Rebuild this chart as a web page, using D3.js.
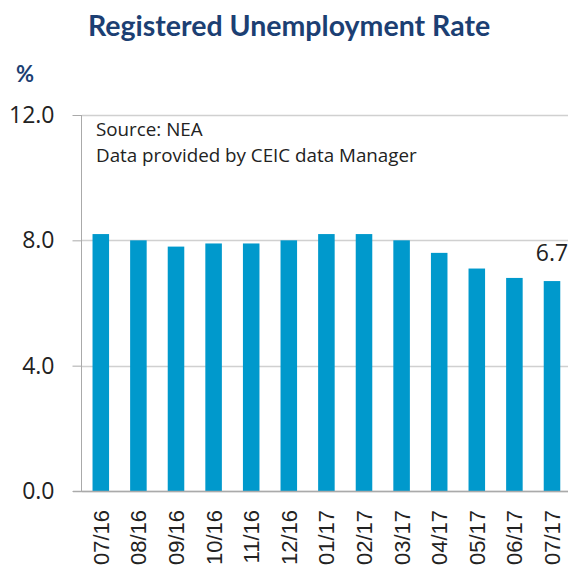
<!DOCTYPE html>
<html>
<head>
<meta charset="utf-8">
<script src="https://cdn.jsdelivr.net/npm/d3@7"></script>
<style>
  body { margin: 0; background: #fff; }
  svg { display: block; }
</style>
</head>
<body>
<div id="chart"></div>
<script>
var months = ['07/16', '08/16', '09/16', '10/16', '11/16', '12/16', '01/17',
  '02/17', '03/17', '04/17', '05/17', '06/17', '07/17']
var rates = [8.2, 8.0, 7.8, 7.9, 7.9, 8.0, 8.2, 8.2, 8.0, 7.6, 7.1, 6.8, 6.7]
var yTicks = [0, 4, 8, 12]
var labelled = ['07/17'] // only last bar gets a value label

var width = 568, height = 571
var svg = d3.select('#chart').append('svg')
  .attr('width', width).attr('height', height)

var x = d3.scaleBand().domain(months).range([82, 570.8])
  .paddingInner(0.56).paddingOuter(0.28)
var y = d3.scaleLinear().domain([0, 12]).range([491, 115])

// title + unit
svg.append('text')
  .attr('x', 289).attr('y', 36)
  .attr('text-anchor', 'middle')
  .style('font', 'bold 28.5px Lato, sans-serif')
  .style('fill', '#1c3f73')
  .text('Registered Unemployment Rate')

svg.append('text')
  .attr('x', 16).attr('y', 82)
  .style('font', 'bold 22px Lato, sans-serif')
  .style('fill', '#1c3f73')
  .text('%')

// gridlines
svg.append('g').selectAll('line').data(yTicks).join('line')
  .attr('x1', 82).attr('x2', width)
  .attr('y1', d => Math.round(y(d)) + 0.5).attr('y2', d => Math.round(y(d)) + 0.5)
  .attr('stroke', '#d0d0d0').attr('stroke-width', 1.5)

// y axis
var yAxis = d3.axisLeft(y).tickValues(yTicks).tickFormat(d3.format('.1f'))
  .tickSize(9).tickPadding(18)
var yg = svg.append('g').attr('transform', 'translate(81.5,0)').call(yAxis)
yg.select('.domain').attr('stroke', '#aaa').attr('d', 'M0,' + y(12) + 'V' + y(0))
yg.selectAll('.tick line').attr('stroke', '#aaa')
yg.selectAll('.tick text')
  .style('font', '23px "Open Sans", sans-serif').style('fill', '#222')

// bars
svg.append('g').selectAll('rect').data(months).join('rect')
  .attr('x', d => x(d))
  .attr('width', x.bandwidth())
  .attr('y', (d, i) => y(rates[i]))
  .attr('height', (d, i) => y(0) - y(rates[i]))
  .attr('fill', '#0099cc')

// baseline
svg.append('line')
  .attr('x1', 73).attr('x2', width)
  .attr('y1', Math.round(y(0)) + 0.5).attr('y2', Math.round(y(0)) + 0.5)
  .attr('stroke', '#aaa').attr('stroke-width', 1.5)

// value label
svg.append('g').selectAll('text').data(labelled).join('text')
  .attr('x', d => x(d) + x.bandwidth() / 2)
  .attr('y', d => y(rates[months.indexOf(d)]) - 20)
  .attr('text-anchor', 'middle')
  .style('font', '23px "Open Sans", sans-serif').style('fill', '#222')
  .text(d => rates[months.indexOf(d)].toFixed(1))

// x labels, rotated
svg.append('g').selectAll('text').data(months).join('text')
  .attr('transform', d => 'translate(' + (x(d) + x.bandwidth() / 2 + 8) + ',510) rotate(-90)')
  .attr('text-anchor', 'end')
  .style('font', '22px "Liberation Sans", Arial, sans-serif').style('fill', '#222')
  .text(d => d)

// source note
svg.append('text')
  .attr('x', 96).attr('y', 136)
  .style('font', '18.8px "Open Sans", sans-serif').style('fill', '#222')
  .selectAll('tspan').data(['Source: NEA', 'Data provided by CEIC data Manager']).join('tspan')
  .attr('x', 96).attr('dy', (d, i) => i ? 26 : 0)
  .text(d => d)
</script>
</body>
</html>
